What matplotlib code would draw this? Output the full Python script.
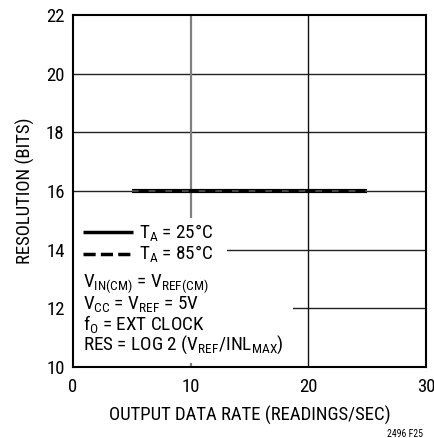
import matplotlib
matplotlib.use('Agg')
import matplotlib.pyplot as plt
from matplotlib.patches import Rectangle

FONT = 'Roboto Condensed'
plt.rcParams['font.family'] = [FONT, 'DejaVu Sans']
plt.rcParams['mathtext.fontset'] = 'custom'
plt.rcParams['mathtext.rm'] = FONT
plt.rcParams['mathtext.it'] = FONT
plt.rcParams['mathtext.bf'] = FONT

x_25 = [5, 25]
y_25 = [16, 16]
x_85 = [5, 25]
y_85 = [16, 16]
xticks = [0, 10, 20, 30]
yticks = [10, 12, 14, 16, 18, 20, 22]

fig = plt.figure(figsize=(4.34, 4.38), dpi=100)
ax = fig.add_axes([73/434, 1-367/438, (426-73)/434, (367-15)/438])
ax.set_xlim(0, 30)
ax.set_ylim(10, 22)
ax.set_xticks(xticks)
ax.set_yticks(yticks)
ax.tick_params(length=0, labelsize=13.5)
ax.tick_params(axis='x', pad=8)
ax.tick_params(axis='y', pad=6)
for yv in yticks[1:-1]:
    ax.axhline(yv, color='#222222', lw=1.0, zorder=1)
ax.axvline(10, color='#808080', lw=1.6, zorder=1)
ax.axvline(20, color='#111111', lw=1.0, zorder=1)
for s in ax.spines.values():
    s.set_linewidth(1.5)
    s.set_color('black')

ax.plot(x_25, y_25, color='black', lw=3, solid_capstyle='butt', zorder=3)
ax.plot(x_85, y_85, color='#555555', lw=1.2, dashes=(4, 6), zorder=3)

ax.set_xlabel('OUTPUT DATA RATE (READINGS/SEC)', fontsize=13.5, labelpad=7)
ax.set_ylabel('RESOLUTION (BITS)', fontsize=13.5, labelpad=8)

ax.add_patch(Rectangle((0.05, 13.375), 13.1 - 0.05, 15.08 - 13.375, facecolor='white', edgecolor='none', zorder=2))
ax.add_patch(Rectangle((0.05, 10.14), 18.7 - 0.05, 13.375 - 10.14, facecolor='white', edgecolor='none', zorder=2))

fs = 13.8
ax.plot([0.85, 5.1], [14.6, 14.6], color='black', lw=2.5, solid_capstyle='butt', zorder=5)
ax.plot([0.85, 5.1], [13.85, 13.85], color='black', lw=2.5, dashes=(3.5, 1.5), zorder=5)
ax.text(5.6, 14.4, r'T$_\mathrm{A}$ = 25°C', fontsize=fs, va='baseline', ha='left', zorder=5)
ax.text(5.6, 13.68, r'T$_\mathrm{A}$ = 85°C', fontsize=fs, va='baseline', ha='left', zorder=5)
notes = [r'V$_\mathrm{IN(CM)}$ = V$_\mathrm{REF(CM)}$',
         r'V$_\mathrm{CC}$ = V$_\mathrm{REF}$ = 5V',
         r'f$_\mathrm{O}$ = EXT CLOCK',
         r'RES = LOG 2 (V$_\mathrm{REF}$/INL$_\mathrm{MAX}$)']
ys = [12.72, 11.99, 11.27, 10.58]
for t, yv in zip(notes, ys):
    ax.text(0.85, yv, t, fontsize=fs, va='baseline', ha='left', zorder=5)

fig.text(405/434, 1-434/438, '2496 F25', fontsize=7, ha='center', va='center')

fig.savefig('out.png', dpi=100)
